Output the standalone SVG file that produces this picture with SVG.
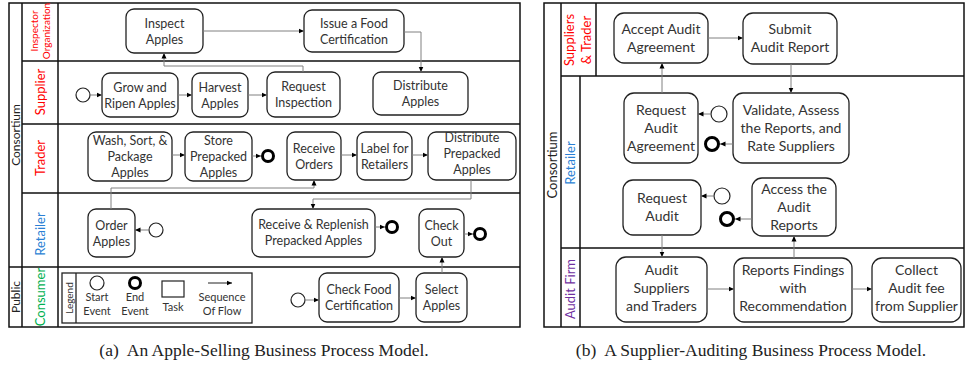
<svg xmlns="http://www.w3.org/2000/svg" width="965" height="366" viewBox="0 0 965 366">
  <style>
    .pool { fill: none; stroke: #111; stroke-width: 1.5; }
    .task { fill: #fff; stroke: #222; stroke-width: 1.3; }
    .t { font-family: Lato, "Open Sans", sans-serif; font-size: 12.5px; fill: #333; text-anchor: middle; }
    .tb { font-family: Lato, "Open Sans", sans-serif; font-size: 14px; fill: #333; text-anchor: middle; }
    .start { fill: #fff; stroke: #222; stroke-width: 1.2; }
    .end { fill: #fff; stroke: #000; stroke-width: 3; }
    .flow { fill: none; stroke: #808080; stroke-width: 1; marker-end: url(#arr); }
    .lane { font-family: Lato, "Open Sans", sans-serif; font-size: 13px; text-anchor: middle; }
    .lane-s { font-family: Lato, "Open Sans", sans-serif; font-size: 10px; text-anchor: middle; }
    .small { font-family: Lato, "Open Sans", sans-serif; font-size: 11px; text-anchor: middle; fill: #333; }
    .cap { font-family: "Liberation Serif", serif; font-size: 17.5px; fill: #222; text-anchor: middle; }
  </style>
  <defs>
    <marker id="arr" markerWidth="6" markerHeight="6" refX="5.5" refY="3" orient="auto" markerUnits="userSpaceOnUse">
      <path d="M0,0.5 L5.5,3 L0,5.5 z" fill="#000"/>
    </marker>
  </defs>
  <rect width="965" height="366" fill="#fff"/>

  <!-- (a) apple-selling pools and lanes -->
  <g id="pools-a">
    <rect class="pool" x="9" y="3" width="511" height="324"/>
    <path class="pool" d="M22,3 V327 M58,3 V327 M22,61 H520 M22,124 H520 M22,193 H520 M9,267 H520"/>
    <text class="lane" fill="#222" style="font-size:12px" transform="rotate(-90 20 135)" x="20" y="135">Consortium</text>
    <text class="lane" fill="#222" style="font-size:12px" transform="rotate(-90 20 297)" x="20" y="297">Public</text>
    <text class="lane-s" fill="#f00" transform="rotate(-90 38 31)" x="38" y="31">Inspector</text>
    <text class="lane-s" fill="#f00" transform="rotate(-90 50 31)" x="50" y="31">Organization</text>
    <text class="lane" fill="#f00" transform="rotate(-90 44.5 92)" x="44.5" y="92">Supplier</text>
    <text class="lane" fill="#f00" transform="rotate(-90 44.5 158)" x="44.5" y="158">Trader</text>
    <text class="lane" fill="#2a7fd4" transform="rotate(-90 44.5 234)" x="44.5" y="234">Retailer</text>
    <text class="lane" fill="#00b050" transform="rotate(-90 44.5 297)" x="44.5" y="297">Consumer</text>
  </g>

  <!-- legend -->
  <g id="legend">
    <rect x="62" y="273" width="190" height="50" fill="none" stroke="#222" stroke-width="1.3"/>
    <path d="M76,273 V323" stroke="#222" stroke-width="1.3"/>
    <text class="small" style="font-size:10px" transform="rotate(-90 73 298)" x="73" y="298">Legend</text>
    <circle class="start" cx="97" cy="283" r="7"/>
    <text class="small"><tspan x="97" y="301">Start</tspan><tspan x="97" y="315">Event</tspan></text>
    <circle class="end" cx="135" cy="283" r="5.5"/>
    <text class="small"><tspan x="135" y="301">End</tspan><tspan x="135" y="315">Event</tspan></text>
    <rect x="162" y="281" width="22" height="16" fill="#fff" stroke="#222" stroke-width="1.2"/>
    <text class="small" x="173" y="311">Task</text>
    <path d="M208,283 H232" stroke="#222" stroke-width="1" marker-end="url(#arr)"/>
    <text class="small"><tspan x="222" y="301">Sequence</tspan><tspan x="222" y="315">Of Flow</tspan></text>
  </g>

  <!-- (a) tasks and events -->
  <g id="n-inspect"><rect class="task" x="126" y="9" width="77" height="44" rx="8"/><text class="t"><tspan x="164.5" y="27.5">Inspect</tspan><tspan x="164.5" y="43.5">Apples</tspan></text></g>
  <g id="n-issue"><rect class="task" x="304" y="10" width="100" height="42" rx="8"/><text class="t"><tspan x="354" y="27.5">Issue a Food</tspan><tspan x="354" y="43.5">Certification</tspan></text></g>
  <g id="e-supplier-start"><circle class="start" cx="83" cy="95" r="7"/></g>
  <g id="n-grow"><rect class="task" x="102" y="73" width="76" height="44" rx="8"/><text class="t"><tspan x="140" y="91.5">Grow and</tspan><tspan x="140" y="107.5">Ripen Apples</tspan></text></g>
  <g id="n-harvest"><rect class="task" x="192" y="73" width="56" height="44" rx="8"/><text class="t"><tspan x="220" y="91.5">Harvest</tspan><tspan x="220" y="107.5">Apples</tspan></text></g>
  <g id="n-request"><rect class="task" x="267" y="72" width="73" height="45" rx="8"/><text class="t"><tspan x="303.5" y="91">Request</tspan><tspan x="303.5" y="107">Inspection</tspan></text></g>
  <g id="n-distribute"><rect class="task" x="373" y="72" width="95" height="43" rx="8"/><text class="t"><tspan x="420.5" y="90">Distribute</tspan><tspan x="420.5" y="106">Apples</tspan></text></g>
  <g id="n-wash"><rect class="task" x="88" y="132" width="84" height="49" rx="8"/><text class="t"><tspan x="130" y="144.5">Wash, Sort, &amp;</tspan><tspan x="130" y="160.5">Package</tspan><tspan x="130" y="176.5">Apples</tspan></text></g>
  <g id="n-store"><rect class="task" x="185" y="132" width="67" height="49" rx="8"/><text class="t"><tspan x="218.5" y="144.5">Store</tspan><tspan x="218.5" y="160.5">Prepacked</tspan><tspan x="218.5" y="176.5">Apples</tspan></text></g>
  <g id="e-trader-end"><circle class="end" cx="268" cy="156" r="5.5"/></g>
  <g id="n-receive"><rect class="task" x="287" y="132" width="54" height="48" rx="8"/><text class="t"><tspan x="314" y="152.5">Receive</tspan><tspan x="314" y="168.5">Orders</tspan></text></g>
  <g id="n-label"><rect class="task" x="357" y="132" width="55" height="48" rx="8"/><text class="t"><tspan x="384.5" y="152.5">Label for</tspan><tspan x="384.5" y="168.5">Retailers</tspan></text></g>
  <g id="n-distpre"><rect class="task" x="428" y="132" width="88" height="48" rx="8"/><text class="t"><tspan x="472" y="142">Distribute</tspan><tspan x="472" y="158">Prepacked</tspan><tspan x="472" y="174">Apples</tspan></text></g>
  <g id="n-order"><rect class="task" x="88" y="209" width="47" height="48" rx="8"/><text class="t"><tspan x="111.5" y="229.5">Order</tspan><tspan x="111.5" y="245.5">Apples</tspan></text></g>
  <g id="e-retailer-start"><circle class="start" cx="156" cy="230" r="7"/></g>
  <g id="n-replenish"><rect class="task" x="252" y="209" width="123" height="48" rx="8"/><text class="t"><tspan x="313.5" y="228.5">Receive &amp; Replenish</tspan><tspan x="313.5" y="244.5">Prepacked Apples</tspan></text></g>
  <g id="e-replenish-end"><circle class="end" cx="392" cy="227" r="5.5"/></g>
  <g id="n-checkout"><rect class="task" x="419" y="209" width="45" height="48" rx="8"/><text class="t"><tspan x="441.5" y="229.5">Check</tspan><tspan x="441.5" y="245.5">Out</tspan></text></g>
  <g id="e-checkout-end"><circle class="end" cx="480" cy="234" r="5.5"/></g>
  <g id="e-consumer-start"><circle class="start" cx="298" cy="300" r="7"/></g>
  <g id="n-checkfood"><rect class="task" x="319" y="273" width="80" height="49" rx="8"/><text class="t"><tspan x="359" y="294">Check Food</tspan><tspan x="359" y="310">Certification</tspan></text></g>
  <g id="n-select"><rect class="task" x="416" y="273" width="51" height="49" rx="8"/><text class="t"><tspan x="441.5" y="294">Select</tspan><tspan x="441.5" y="310">Apples</tspan></text></g>

  <!-- (b) supplier-auditing pools and lanes -->
  <g id="pools-b">
    <rect class="pool" x="544" y="3" width="420" height="324"/>
    <path class="pool" d="M561,3 V327 M596,3 V76 M580,76 V327 M561,76 H964 M561,248 H964"/>
    <text class="lane" fill="#222" transform="rotate(-90 557 165)" x="557" y="165">Consortium</text>
    <text class="lane" fill="#f00" transform="rotate(-90 574 40)" x="574" y="40">Suppliers</text>
    <text class="lane" fill="#f00" transform="rotate(-90 591 40)" x="591" y="40">&amp; Trader</text>
    <text class="lane" fill="#2a7fd4" transform="rotate(-90 575 163)" x="575" y="163">Retailer</text>
    <text class="lane" fill="#7030a0" transform="rotate(-90 575 289)" x="575" y="289">Audit Firm</text>
  </g>

  <!-- (b) tasks and events -->
  <g id="n-accept"><rect class="task" x="614" y="13" width="94" height="50" rx="10"/><text class="tb"><tspan x="661" y="34">Accept Audit</tspan><tspan x="661" y="52">Agreement</tspan></text></g>
  <g id="n-submit"><rect class="task" x="743" y="13" width="94" height="51" rx="10"/><text class="tb"><tspan x="790" y="34">Submit</tspan><tspan x="790" y="52">Audit Report</tspan></text></g>
  <g id="n-reqagree"><rect class="task" x="624" y="93" width="74" height="70" rx="10"/><text class="tb"><tspan x="661" y="115">Request</tspan><tspan x="661" y="133">Audit</tspan><tspan x="661" y="151">Agreement</tspan></text></g>
  <g id="e-agree-start"><circle class="start" cx="719" cy="114" r="8"/></g>
  <g id="e-validate-end"><circle class="end" cx="712" cy="144" r="6.5"/></g>
  <g id="n-validate"><rect class="task" x="733" y="93" width="116" height="70" rx="10"/><text class="tb"><tspan x="791" y="115">Validate, Assess</tspan><tspan x="791" y="133">the Reports, and</tspan><tspan x="791" y="151">Rate Suppliers</tspan></text></g>
  <g id="n-reqaudit"><rect class="task" x="623" y="180" width="78" height="55" rx="10"/><text class="tb"><tspan x="662" y="203">Request</tspan><tspan x="662" y="221">Audit</tspan></text></g>
  <g id="e-audit-start"><circle class="start" cx="722" cy="196" r="8"/></g>
  <g id="e-access-end"><circle class="end" cx="727" cy="219" r="6.5"/></g>
  <g id="n-access"><rect class="task" x="752" y="178" width="84" height="58" rx="10"/><text class="tb"><tspan x="794" y="194">Access the</tspan><tspan x="794" y="212">Audit</tspan><tspan x="794" y="230">Reports</tspan></text></g>
  <g id="n-auditsup"><rect class="task" x="616" y="257" width="91" height="65" rx="10"/><text class="tb"><tspan x="661.5" y="275">Audit</tspan><tspan x="661.5" y="293">Suppliers</tspan><tspan x="661.5" y="311">and Traders</tspan></text></g>
  <g id="n-findings"><rect class="task" x="734" y="258" width="118" height="64" rx="10"/><text class="tb"><tspan x="793" y="275">Reports Findings</tspan><tspan x="793" y="293">with</tspan><tspan x="793" y="311">Recommendation</tspan></text></g>
  <g id="n-collect"><rect class="task" x="872" y="258" width="89" height="64" rx="10"/><text class="tb"><tspan x="916.5" y="275">Collect</tspan><tspan x="916.5" y="293">Audit fee</tspan><tspan x="916.5" y="311">from Supplier</tspan></text></g>

  <!-- sequence flows -->
  <g id="connectors">
    <path class="flow" d="M203,31 H304"/>
    <path class="flow" d="M404,32 H421 V72"/>
    <path class="flow" d="M90,95 H102"/>
    <path class="flow" d="M178,95 H192"/>
    <path class="flow" d="M248,95 H267"/>
    <path class="flow" d="M303,72 V66 H164 V53"/>
    <path class="flow" d="M172,155 H185"/>
    <path class="flow" d="M252,156 H261"/>
    <path class="flow" d="M341,155 H357"/>
    <path class="flow" d="M412,155 H428"/>
    <path class="flow" d="M111,209 V188 H314 V180"/>
    <path class="flow" d="M471,180 V199 H313 V209"/>
    <path class="flow" d="M149,230 H135"/>
    <path class="flow" d="M375,227 H385"/>
    <path class="flow" d="M464,234 H473"/>
    <path class="flow" d="M305,300 H319"/>
    <path class="flow" d="M399,298 H416"/>
    <path class="flow" d="M442,273 V257"/>
    <path class="flow" d="M708,38 H743"/>
    <path class="flow" d="M791,64 V93"/>
    <path class="flow" d="M662,93 V63"/>
    <path class="flow" d="M711,114 H698"/>
    <path class="flow" d="M733,144 H720"/>
    <path class="flow" d="M714,196 H701"/>
    <path class="flow" d="M752,219 H735"/>
    <path class="flow" d="M662,235 V257"/>
    <path class="flow" d="M707,289 H734"/>
    <path class="flow" d="M852,289 H872"/>
    <path class="flow" d="M794,258 V236"/>
  </g>

  <!-- captions -->
  <text class="cap" x="264" y="356">(a)<tspan dx="8">An Apple-Selling Business Process Model.</tspan></text>
  <text class="cap" x="751" y="356">(b)<tspan dx="8">A Supplier-Auditing Business Process Model.</tspan></text>
</svg>
